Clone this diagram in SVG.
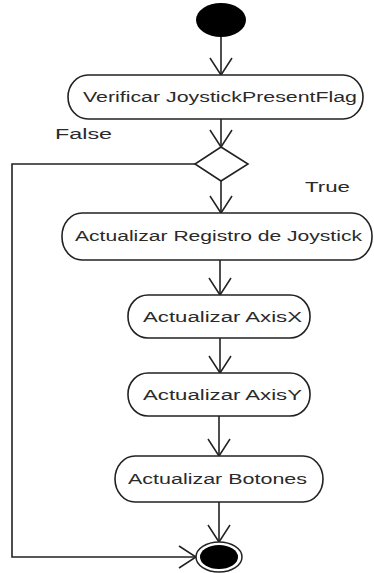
<svg xmlns="http://www.w3.org/2000/svg" width="374" height="573" viewBox="0 0 374 573">
  <defs>
    <marker id="open-arrow" markerUnits="userSpaceOnUse" markerWidth="40" markerHeight="40" refX="0" refY="0" viewBox="-20 -20 40 40" orient="auto" overflow="visible">
      <path d="M-17,-11 L0,0 L-17,11" fill="none" stroke="#222" stroke-width="1.5"/>
    </marker>
    <style>
      .node { fill: #fff; stroke: #222; stroke-width: 1.6; }
      .label { font-family: "Liberation Sans", Arial, sans-serif; font-size: 14px; fill: #2a2a2a; }
      .edge { fill: none; stroke: #222; stroke-width: 1.6; }
      .arrow { marker-end: url(#open-arrow); }
    </style>
  </defs>

  <rect width="374" height="573" fill="#fff"/>

  <!-- connectors -->
  <g id="connectors">
    <path class="edge arrow" d="M221,37 L221,75"/>
    <path class="edge arrow" d="M221,119 L221,147"/>
    <path class="edge arrow" d="M221,181 L221,213"/>
    <path class="edge arrow" d="M220,260 L220,295"/>
    <path class="edge arrow" d="M220,338 L220,373"/>
    <path class="edge arrow" d="M219,416 L219,456"/>
    <path class="edge arrow" d="M219,502 L219,542"/>
    <path class="edge arrow" d="M195,164 L12,164 L12,557 L196,557"/>
    <text class="label" x="55" y="139" textLength="57" lengthAdjust="spacingAndGlyphs">False</text>
    <text class="label" x="305" y="192" textLength="45" lengthAdjust="spacingAndGlyphs">True</text>
  </g>

  <!-- initial state -->
  <g id="start">
    <ellipse cx="221" cy="20" rx="25" ry="17" fill="#000"/>
  </g>

  <g id="verificar">
    <rect class="node" x="68" y="75" width="295" height="44" rx="20" ry="22"/>
    <text class="label" x="83" y="102" textLength="274" lengthAdjust="spacingAndGlyphs">Verificar JoystickPresentFlag</text>
  </g>

  <g id="decision">
    <polygon class="node" points="221,147 248,164 221,181 195,164"/>
  </g>

  <g id="registro">
    <rect class="node" x="62" y="213" width="310" height="47" rx="20" ry="23"/>
    <text class="label" x="75" y="241" textLength="287" lengthAdjust="spacingAndGlyphs">Actualizar Registro de Joystick</text>
  </g>

  <g id="axisx">
    <rect class="node" x="128" y="295" width="182" height="43" rx="20" ry="21"/>
    <text class="label" x="143" y="322" textLength="159" lengthAdjust="spacingAndGlyphs">Actualizar AxisX</text>
  </g>

  <g id="axisy">
    <rect class="node" x="128" y="373" width="182" height="43" rx="20" ry="21"/>
    <text class="label" x="143" y="400" textLength="159" lengthAdjust="spacingAndGlyphs">Actualizar AxisY</text>
  </g>

  <g id="botones">
    <rect class="node" x="115" y="456" width="208" height="46" rx="20" ry="23"/>
    <text class="label" x="128" y="484" textLength="179" lengthAdjust="spacingAndGlyphs">Actualizar Botones</text>
  </g>

  <!-- final state -->
  <g id="end">
    <ellipse cx="219" cy="557" rx="23" ry="15" fill="#fff" stroke="#222" stroke-width="1.5"/>
    <ellipse cx="219" cy="557" rx="19" ry="12" fill="#000"/>
  </g>
</svg>
